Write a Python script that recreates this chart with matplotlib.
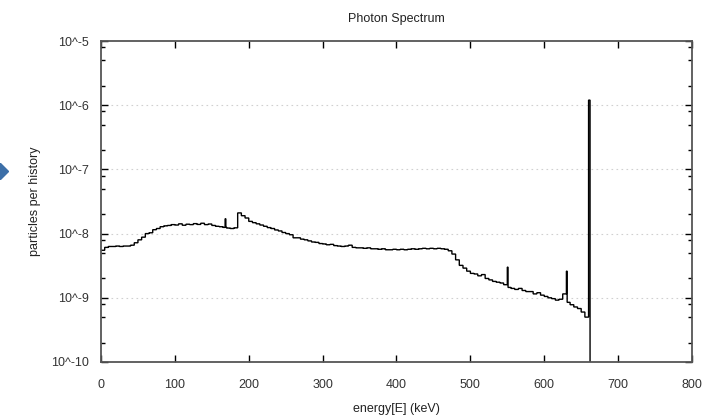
import matplotlib
matplotlib.use("Agg")
import matplotlib.pyplot as plt
from matplotlib.lines import Line2D
from matplotlib.ticker import LogLocator, FixedLocator, NullFormatter
import numpy as np

plt.rcParams['font.family'] = ['Liberation Sans', 'DejaVu Sans']

# continuum, 5 keV bins from 0 to 660 keV, in units of 1e-9 particles per history
bin_width = 5
continuum = [
    5.5, 6.1, 6.3, 6.3, 6.4, 6.3, 6.4, 6.4,                     # 0-40
    6.6, 7.2, 8.0, 8.8, 10.0, 10.3, 11.5, 12.0,                 # 40-80
    12.8, 13.2, 13.4, 13.8,                                     # 80-100
    13.6, 14.2, 13.5, 14.0, 13.8, 14.3, 13.9, 14.5, 13.8, 14.1,  # 100-150
    13.4, 13.0, 12.8, 12.5, 12.2, 12.0, 12.3,                   # 150-185
    21.0, 19.0, 17.5, 15.5, 14.8, 14.2, 13.6, 13.0, 12.4, 12.0,  # 185-235
    11.4, 11.0, 10.4, 10.0, 9.6, 8.6, 8.6, 8.2, 8.0, 7.7,       # 235-285
    7.4, 7.3, 7.0, 6.9, 6.7, 6.8, 6.5, 6.4, 6.3, 6.4,           # 285-335
    6.6, 6.1, 6.0, 6.0, 5.9, 6.0, 5.8, 5.8, 5.7, 5.8,           # 335-385
    5.6, 5.6, 5.7, 5.6, 5.7, 5.6, 5.7, 5.8, 5.7, 5.8,           # 385-435
    5.9, 5.8, 5.9, 5.8, 5.9, 5.8, 5.7, 5.4, 4.8, 3.9,           # 435-485
    3.2, 2.9, 2.6, 2.4, 2.35, 2.2, 2.3, 2.0, 1.9, 1.8,          # 485-535
    1.75, 1.7, 1.6, 1.45, 1.4, 1.35, 1.4, 1.3, 1.25, 1.25,      # 535-585
    1.15, 1.2, 1.1, 1.05, 1.0, 0.97, 0.92, 0.95, 1.15, 0.85,    # 585-635
    0.78, 0.72, 0.68, 0.6, 0.5,                                 # 635-660
]

# narrow lines (keV, 1 keV wide) on top of the continuum, units of 1e-9
line_energy = [168, 550, 630, 660, 661]
line_height = [17.0, 3.0, 2.6, 1200.0, 1200.0]

e_max = 800

# 1 keV resolution histogram
counts = np.zeros(e_max)
counts[:len(continuum) * bin_width] = np.repeat(continuum, bin_width)
counts[line_energy] = line_height
counts = counts * 1e-9
edges = np.arange(e_max + 1)

fig = plt.figure(figsize=(7.2, 4.16), dpi=100)
ax = fig.add_axes([101 / 720, 1 - 362 / 416, 591 / 720, 321 / 416])

ax.stairs(counts, edges, color='black', linewidth=1.0, baseline=None)

ax.set_yscale('log')
ax.set_xlim(0, 800)
ax.set_ylim(1e-10, 1e-5)

ax.xaxis.set_major_locator(FixedLocator(np.arange(0, 801, 100)))
ax.yaxis.set_major_locator(FixedLocator([1e-10, 1e-9, 1e-8, 1e-7, 1e-6, 1e-5]))
ax.set_yticklabels(['10^-10', '10^-9', '10^-8', '10^-7', '10^-6', '10^-5'])
ax.yaxis.set_minor_locator(LogLocator(base=10, subs=(2.0, 5.0, 8.0)))
ax.yaxis.set_minor_formatter(NullFormatter())

ax.tick_params(which='both', direction='in', top=True, right=True,
               colors='black', labelcolor='#333333', labelsize=9)
ax.tick_params(axis='x', pad=12)
ax.tick_params(axis='y', pad=9)
ax.tick_params(which='major', length=5, width=1)
ax.tick_params(which='minor', length=3, width=1)

for s in ax.spines.values():
    s.set_color('#555555')
    s.set_linewidth(1.3)

for v in [1e-9, 1e-8, 1e-7, 1e-6]:
    ax.axhline(v, color='#d0d0d0', linestyle=(0, (1.5, 3)), linewidth=0.8, zorder=0)

ax.set_title('Photon Spectrum', fontsize=9, color='#222222', pad=14)
ax.set_xlabel('energy[E] (keV)', fontsize=9, color='#222222', labelpad=9)
ax.set_ylabel('particles per history', fontsize=9, color='#222222', labelpad=7)

# panel marker at the left edge
fig.add_artist(Line2D([0.0], [1 - 171 / 416], marker='D', markersize=8,
                      color='#3d6fa8', transform=fig.transFigure, clip_on=False))

fig.savefig('out.png', dpi=100)
